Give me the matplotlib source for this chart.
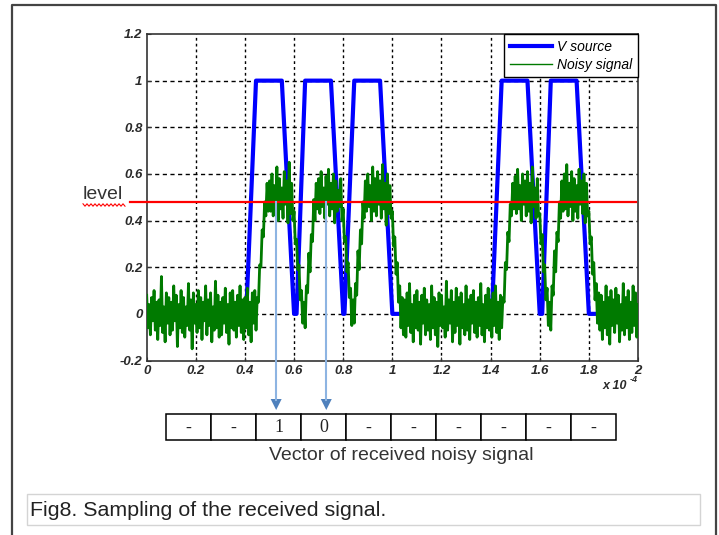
import numpy as np
import matplotlib
matplotlib.use("Agg")
import matplotlib.pyplot as plt
from matplotlib.lines import Line2D
from matplotlib.patches import Rectangle, Polygon
import matplotlib.transforms as mtransforms
from matplotlib.font_manager import FontProperties

# ---------------- data ----------------
blue_t = [0, 0.405, 0.445, 0.55, 0.60, 0.61, 0.645, 0.75, 0.80, 0.805, 0.845, 0.95, 1.0,
          1.405, 1.445, 1.55, 1.60, 1.61, 1.645, 1.75, 1.80, 2.0]
blue_v = [0, 0, 1, 1, 0, 0, 1, 1, 0, 0, 1, 1, 0,
          0, 1, 1, 0, 0, 1, 1, 0, 0]

green_step = 0.005
green_v = [
    0.08, -0.06, 0.04, -0.09, 0.07, -0.03, 0.10, -0.07, 0.05, -0.11,
    0.06, -0.05, 0.16, -0.08, 0.03, -0.12, 0.09, -0.04, 0.07, -0.09,
    0.05, -0.07, 0.12, -0.03, 0.08, -0.14, 0.04, -0.06, 0.10, -0.08,
    0.07, -0.10, 0.03, -0.05, 0.13, -0.07, 0.06, -0.15, 0.09, -0.04,
    0.04, -0.08, 0.10, -0.06, 0.07, -0.11, 0.05, -0.03, 0.12, -0.09,
    0.06, -0.05, 0.09, -0.12, 0.03, -0.07, 0.14, -0.06, 0.08, -0.10,
    0.05, -0.09, 0.07, -0.04, 0.11, -0.08, 0.04, -0.13, 0.09, -0.06,
    0.10, -0.07, 0.05, -0.10, 0.08, -0.05, 0.12, -0.08, 0.06, -0.11,
    0.07, -0.06, 0.11, -0.09, 0.05, -0.12, 0.09, -0.04, 0.10, -0.07,
    0.07, 0.05, 0.21, 0.20, 0.36, 0.33, 0.48, 0.42, 0.56, 0.44,
    0.57, 0.44, 0.60, 0.42, 0.55, 0.46, 0.63, 0.40, 0.58, 0.45,
    0.54, 0.41, 0.61, 0.47, 0.57, 0.39, 0.65, 0.43, 0.56, 0.40,
    0.44, 0.30, 0.32, 0.19, 0.21, 0.06, 0.10, -0.04, 0.05, -0.06,
    0.12, 0.09, 0.26, 0.18, 0.34, 0.31, 0.49, 0.40, 0.56, 0.45,
    0.58, 0.43, 0.61, 0.46, 0.54, 0.41, 0.59, 0.47, 0.62, 0.42,
    0.56, 0.45, 0.60, 0.39, 0.57, 0.44, 0.53, 0.46, 0.58, 0.40,
    0.45, 0.31, 0.33, 0.18, 0.22, 0.07, 0.11, -0.05, 0.06, -0.04,
    0.13, 0.08, 0.27, 0.19, 0.36, 0.30, 0.48, 0.41, 0.57, 0.44,
    0.60, 0.46, 0.55, 0.40, 0.63, 0.44, 0.58, 0.42, 0.61, 0.47,
    0.57, 0.41, 0.64, 0.45, 0.56, 0.38, 0.60, 0.43, 0.55, 0.41,
    0.44, 0.29, 0.33, 0.17, 0.22, 0.05, 0.12, -0.06, 0.07, -0.09,
    0.06, -0.10, 0.09, -0.05, 0.13, -0.08, 0.04, -0.12, 0.08, -0.06,
    0.10, -0.07, 0.05, -0.13, 0.08, -0.04, 0.11, -0.09, 0.06, -0.07,
    0.04, -0.11, 0.12, -0.06, 0.07, -0.09, 0.05, -0.14, 0.09, -0.05,
    0.08, -0.06, 0.03, -0.10, 0.14, -0.07, 0.06, -0.04, 0.10, -0.12,
    0.05, -0.08, 0.11, -0.05, 0.07, -0.13, 0.09, -0.06, 0.04, -0.09,
    0.12, -0.07, 0.06, -0.11, 0.08, -0.04, 0.10, -0.08, 0.05, -0.10,
    0.07, -0.05, 0.13, -0.09, 0.04, -0.12, 0.08, -0.06, 0.11, -0.07,
    0.06, -0.10, 0.09, -0.05, 0.12, -0.08, 0.05, -0.11, 0.08, -0.06,
    0.07, 0.05, 0.22, 0.19, 0.35, 0.31, 0.47, 0.42, 0.56, 0.45,
    0.59, 0.43, 0.62, 0.45, 0.55, 0.40, 0.60, 0.47, 0.57, 0.42,
    0.61, 0.44, 0.56, 0.39, 0.63, 0.46, 0.54, 0.41, 0.58, 0.42,
    0.43, 0.30, 0.34, 0.18, 0.21, 0.06, 0.11, -0.05, 0.05, -0.07,
    0.12, 0.08, 0.27, 0.18, 0.35, 0.31, 0.48, 0.41, 0.57, 0.44,
    0.60, 0.45, 0.64, 0.42, 0.56, 0.46, 0.61, 0.40, 0.58, 0.44,
    0.55, 0.41, 0.62, 0.47, 0.57, 0.43, 0.60, 0.39, 0.56, 0.42,
    0.44, 0.30, 0.33, 0.17, 0.22, 0.06, 0.13, -0.04, 0.09, -0.07,
    0.08, -0.11, 0.05, -0.06, 0.12, -0.09, 0.07, -0.13, 0.10, -0.05,
    0.06, -0.08, 0.11, -0.04, 0.08, -0.12, 0.04, -0.07, 0.13, -0.09,
    0.07, -0.06, 0.10, -0.11, 0.05, -0.08, 0.12, -0.05, 0.09, -0.10,
    0.04,
]
green_t = np.arange(len(green_v)) * green_step

level = 0.48
sample_times = [0.527, 0.731]
vector_cells = ['-', '-', '1', '0', '-', '-', '-', '-', '-', '-']

x_ticks = [0, 0.2, 0.4, 0.6, 0.8, 1, 1.2, 1.4, 1.6, 1.8, 2]
x_tick_labels = ['0', '0.2', '0.4', '0.6', '0.8', '1', '1.2', '1.4', '1.6', '1.8', '2']
y_ticks = [-0.2, 0, 0.2, 0.4, 0.6, 0.8, 1, 1.2]
y_tick_labels = ['-0.2', '0', '0.2', '0.4', '0.6', '0.8', '1', '1.2']

legend_labels = ['V source', 'Noisy signal']
caption = 'Fig8. Sampling of the received signal.'
vector_title = 'Vector of received noisy signal'

# ---------------- figure ----------------
W, H = 719, 535
fig = plt.figure(figsize=(W / 100, H / 100), dpi=100)
fig.patch.set_facecolor('white')

def fx(x):
    return x / W

def fy(y):
    return 1 - y / H

ax_l, ax_r, ax_t, ax_b = 146.7, 638.0, 34.0, 360.5
ax = fig.add_axes([fx(ax_l), fy(ax_b), (ax_r - ax_l) / W, (ax_b - ax_t) / H])
ax.set_xlim(0, 2)
ax.set_ylim(-0.2, 1.2)

ax.plot(blue_t, blue_v, color='#0000FF', lw=3.0, label=legend_labels[0], zorder=3)
ax.plot(green_t, green_v, color='#007A00', lw=2.0, label=legend_labels[1], zorder=4)

# red level line (extends to the left of the axes)
ax.add_line(Line2D([-0.068, 1.99], [level, level], color='#FF0000', lw=1.6,
                   clip_on=False, zorder=5))

# grid
for xt in x_ticks[1:-1]:
    ax.plot([xt, xt], [-0.2, 1.2], color='black', lw=1.0, ls=(0, (2, 2.2)), zorder=1)
for yt in y_ticks[1:-1]:
    ax.plot([0, 2], [yt, yt], color='black', lw=1.0, ls=(0, (3, 2.5)), zorder=1)

ax.set_xticks(x_ticks)
ax.set_xticklabels(x_tick_labels)
ax.set_yticks(y_ticks)
ax.set_yticklabels(y_tick_labels)
tick_fp = FontProperties(family='Liberation Sans', weight='bold', style='italic', size=9.5)
for lab in ax.get_xticklabels() + ax.get_yticklabels():
    lab.set_fontproperties(tick_fp)
    lab.set_color('#2a2a2a')
ax.tick_params(direction='in', length=3, width=0.8, color='#333333', pad=3)
for sp in ax.spines.values():
    sp.set_color('#333333')
    sp.set_linewidth(1.2)

leg = ax.legend(loc='upper right', borderaxespad=0, fancybox=False, framealpha=1,
                edgecolor='black', handlelength=3.0, handletextpad=0.4,
                borderpad=0.4, labelspacing=0.3,
                prop=dict(family='Liberation Sans', style='italic', size=10))
leg.get_frame().set_linewidth(1.0)
leg.get_lines()[1].set_linewidth(1.0)
leg.set_zorder(10)

# exponent label
fig.text(fx(603), fy(386), 'x 10', fontsize=9, family='Liberation Sans',
         weight='bold', style='italic', color='#2a2a2a', va='center', ha='left')
fig.text(fx(630), fy(380), '-4', fontsize=6.5, family='Liberation Sans',
         weight='bold', style='italic', color='#2a2a2a', va='center', ha='left')

# "level" label with red wavy underline
fig.text(fx(83), fy(195), 'level', fontsize=14, family='Liberation Sans',
         color='#333333', va='center', ha='left')
wx = np.arange(83, 126, 2.0)
wy = 205 + np.where(np.arange(len(wx)) % 2 == 0, -1.2, 1.2)
fig.add_artist(Line2D(fx(wx), fy(wy), color='#FF0000', lw=0.8,
                      transform=fig.transFigure))

# sampling arrows
blend = mtransforms.blended_transform_factory(ax.transData, fig.transFigure)
for st in sample_times:
    fig.add_artist(Line2D([st, st], [ax.transData.transform((0, level))[1] / H, fy(400)],
                          color='#8DB4E2', lw=1.5, transform=blend, clip_on=False, zorder=6))
    xp = ax_l + st * (ax_r - ax_l) / 2
    fig.add_artist(Polygon([[fx(xp - 5.5), fy(399)], [fx(xp + 5.5), fy(399)], [fx(xp), fy(410)]],
                           closed=True, facecolor='#4F81BD', edgecolor='none',
                           transform=fig.transFigure))

# vector of received signal
cell_l, cell_w, cell_t, cell_b = 166.0, 45.0, 414.0, 440.0
for i, val in enumerate(vector_cells):
    x0 = cell_l + i * cell_w
    fig.add_artist(Rectangle((fx(x0), fy(cell_b)), cell_w / W, (cell_b - cell_t) / H,
                             facecolor='white', edgecolor='black', lw=1.1,
                             transform=fig.transFigure))
    fig.text(fx(x0 + cell_w / 2), fy((cell_t + cell_b) / 2 + 1), val, fontsize=13,
             family='Liberation Serif', ha='center', va='center', color='#222222')
fig.text(fx(401), fy(455), vector_title, fontsize=14, family='Liberation Sans',
         ha='center', va='center', color='#333333')

# outer frame
fig.add_artist(Line2D([fx(12), fx(12), fx(716), fx(716)], [fy(535), fy(5), fy(5), fy(535)],
                      color='#444444', lw=1.6, transform=fig.transFigure))

# caption box
fig.add_artist(Rectangle((fx(27), fy(525)), (700 - 27) / W, (525 - 494) / H,
                         facecolor='white', edgecolor='#d4d4d4', lw=1.0,
                         transform=fig.transFigure))
fig.text(fx(30), fy(510), caption, fontsize=15.4, family='Liberation Sans',
         ha='left', va='center', color='#222222')

fig.savefig('out.png', dpi=100, facecolor='white')
